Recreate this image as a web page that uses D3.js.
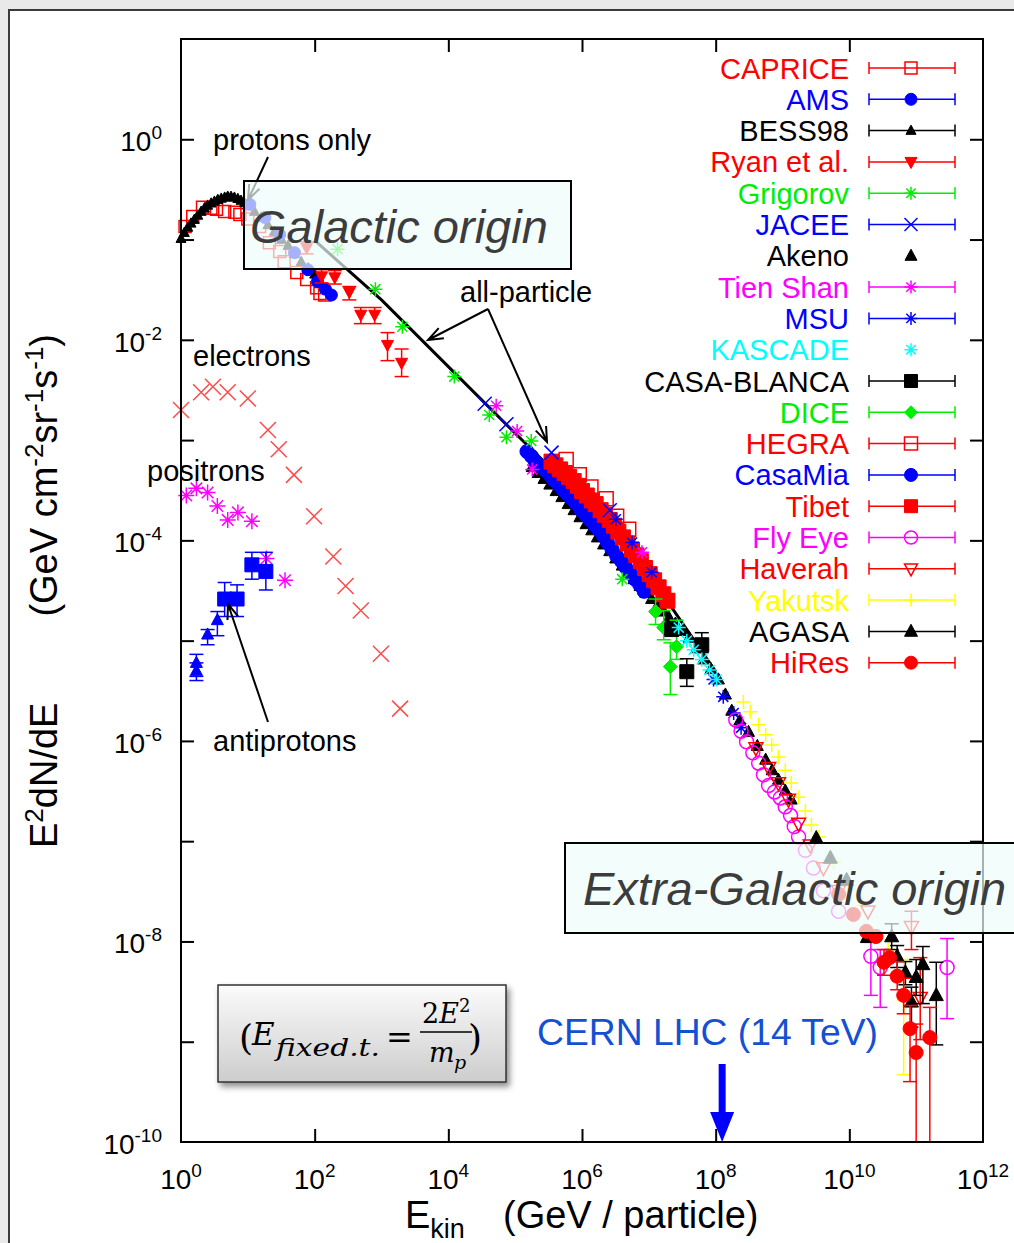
<!DOCTYPE html>
<html>
<head>
<meta charset="utf-8">
<script src="https://cdn.jsdelivr.net/npm/d3@7"></script>
<style>
  body { margin: 0; background: #e9e9e9; }
  svg { display: block; font-family: "Liberation Sans", Arial, sans-serif; }
</style>
</head>
<body>
<svg id="chart"></svg>
<script>
// tick exponents for the axes
var xTickExps = [0, 2, 4, 6, 8, 10, 12];
var yTickExps = [0, -2, -4, -6, -8, -10];

// all series as [E (GeV), E^2 dN/dE] or [E, flux, errLow, errHigh]
var caprice = [[1.15, 0.135], [1.5, 0.17], [2.1, 0.21], [2.8, 0.205], [3.4, 0.2], [4.5, 0.19], [6.4, 0.187],
  [7.6, 0.178], [10, 0.16], [15, 0.135], [21, 0.093], [30, 0.076], [35, 0.06], [54, 0.047], [76, 0.04],
  [107, 0.033], [120, 0.029], [141, 0.028]];
var ams = [[10.7, 0.224], [18, 0.166], [30, 0.112], [50, 0.074], [79, 0.05], [110, 0.038], [145, 0.032], [178, 0.028]];
var bess98 = [[1.0, 0.102], [1.12, 0.117], [1.26, 0.132], [1.41, 0.145], [1.58, 0.158], [1.78, 0.174], [2.0, 0.19],
  [2.24, 0.205], [2.5, 0.219], [2.82, 0.23], [3.16, 0.24], [3.55, 0.25], [4.0, 0.257], [4.5, 0.263], [5.0, 0.269],
  [5.6, 0.268], [6.3, 0.263], [7.1, 0.255], [7.9, 0.245], [8.9, 0.232], [10, 0.219], [12.6, 0.19], [15.8, 0.166],
  [20, 0.14], [25, 0.12], [32, 0.1], [40, 0.087], [50, 0.072], [63, 0.06], [80, 0.052], [100, 0.045]];
var ryan = [[76, 0.083, 0.072, 0.095], [127, 0.043, 0.037, 0.05], [200, 0.042, 0.036, 0.049], [330, 0.03, 0.025, 0.034],
  [490, 0.0178, 0.0145, 0.021], [790, 0.0178, 0.0145, 0.021], [1230, 0.0089, 0.0062, 0.0118], [2000, 0.0059, 0.0043, 0.0081]];
var grigorov = [[220, 0.08], [810, 0.032], [2050, 0.0135], [1.23e4, 0.0043], [4.1e4, 1.78e-3], [7.4e4, 1.07e-3],
  [1.74e5, 9.8e-4], [4e6, 4.1e-5]];
var jacee = [[3.5e4, 2.3e-3], [7.4e4, 1.44e-3], [3.5e5, 7.5e-4], [2.6e6, 2.0e-4]];
var akeno = [[1.8e5, 5.4e-4], [2.2e5, 4.7e-4], [2.7e5, 4.1e-4], [3.3e5, 3.6e-4], [4.1e5, 3.1e-4], [5.0e5, 2.7e-4],
  [6.2e5, 2.3e-4], [7.6e5, 2.0e-4], [9.3e5, 1.7e-4], [1.15e6, 1.45e-4], [1.4e6, 1.26e-4], [1.7e6, 1.07e-4],
  [2.1e6, 9.1e-5], [2.6e6, 7.8e-5], [3.2e6, 6.6e-5], [4.0e6, 5.6e-5], [4.9e6, 4.8e-5], [6.0e6, 4.1e-5],
  [7.4e6, 3.5e-5], [9.0e6, 3.0e-5], [1.1e7, 2.6e-5], [1.35e7, 2.25e-5], [1.67e7, 1.95e-5], [2.0e7, 1.7e-5],
  [2.5e7, 1.48e-5], [3.2e7, 1.25e-5], [4.0e7, 1.07e-5], [5.2e7, 8.4e-6], [6.6e7, 6.5e-6], [8.5e7, 5.2e-6],
  [1.1e8, 4.1e-6], [1.4e8, 2.9e-6], [1.74e8, 2.0e-6], [2.3e8, 1.6e-6], [3.1e8, 1.23e-6], [4.2e8, 8.9e-7],
  [5.6e8, 6.5e-7], [7.0e8, 5.1e-7], [8.7e8, 4.1e-7], [1.1e9, 3.2e-7], [1.35e9, 2.6e-7]];
var tienShan = [[5.2e4, 2.2e-3], [1.07e5, 1.23e-3], [1.8e5, 5.1e-4], [7.9e6, 7.6e-5]];
var msu = [[3.2e6, 1.62e-4], [5.6e6, 9.5e-5], [1.1e7, 4.8e-5], [9.3e7, 4.1e-6], [1.3e8, 2.75e-6], [1.86e8, 1.9e-6],
  [2.4e8, 1.35e-6]];
var kascade = [[2.8e7, 1.35e-5], [3.7e7, 1.0e-5], [4.7e7, 8.1e-6], [6.2e7, 6.5e-6], [8.1e7, 5.1e-6], [1.03e8, 4.1e-6]];
var casaBlanca = [[2.2e7, 1.29e-5, 1.15e-5, 1.45e-5], [3.7e7, 4.9e-6, 3.5e-6, 6.6e-6], [6.2e7, 9.1e-6, 7.6e-6, 1.2e-5]];
var dice = [[1.26e7, 1.95e-5, 1.45e-5, 2.6e-5], [1.67e7, 1.35e-5, 1.02e-5, 2.0e-5], [2.1e7, 5.5e-6, 2.9e-6, 9.5e-6],
  [2.6e7, 8.7e-6, 6.5e-6, 1.6e-5]];
var hegra = [[5.8e5, 6.4e-4], [9.1e5, 4.5e-4], [1.36e6, 3.4e-4], [2.3e6, 2.6e-4], [3.3e6, 1.74e-4], [5.0e6, 1.29e-4]];
var casaMia = [[1.5e5, 7.7e-4], [1.75e5, 6.9e-4], [2.0e5, 6.1e-4], [2.4e5, 5.5e-4], [2.8e5, 5.0e-4], [3.3e5, 4.5e-4],
  [3.8e5, 4.0e-4], [4.5e5, 3.6e-4], [5.2e5, 3.2e-4], [6.1e5, 2.9e-4], [7.1e5, 2.6e-4], [8.3e5, 2.3e-4],
  [9.7e5, 2.0e-4], [1.13e6, 1.8e-4], [1.32e6, 1.6e-4], [1.55e6, 1.42e-4], [1.8e6, 1.26e-4], [2.1e6, 1.1e-4],
  [2.4e6, 9.5e-5], [2.8e6, 8.2e-5], [3.3e6, 7.0e-5], [3.9e6, 6.2e-5], [4.5e6, 5.4e-5], [5.3e6, 4.7e-5],
  [6.2e6, 4.1e-5], [7.3e6, 3.6e-5], [8.5e6, 3.1e-5]];
var tibet = [[3.5e5, 6.1e-4], [4.0e5, 5.6e-4], [4.7e5, 5.1e-4], [5.5e5, 4.7e-4], [6.4e5, 4.3e-4], [7.5e5, 3.9e-4],
  [8.7e5, 3.5e-4], [1.0e6, 3.1e-4], [1.18e6, 2.8e-4], [1.4e6, 2.5e-4], [1.6e6, 2.3e-4], [1.9e6, 2.0e-4],
  [2.2e6, 1.8e-4], [2.6e6, 1.6e-4], [3.0e6, 1.4e-4], [3.5e6, 1.22e-4], [4.1e6, 1.07e-4], [4.8e6, 9.3e-5],
  [5.6e6, 8.1e-5], [6.5e6, 7.1e-5], [7.6e6, 6.2e-5], [8.8e6, 5.3e-5], [1.03e7, 4.6e-5], [1.2e7, 4.0e-5],
  [1.4e7, 3.4e-5], [1.65e7, 2.9e-5], [1.9e7, 2.5e-5]];
var flyEye = [[2.0e8, 1.62e-6], [2.4e8, 1.25e-6], [2.9e8, 9.8e-7], [3.6e8, 7.6e-7], [4.4e8, 6.0e-7], [5.2e8, 4.6e-7],
  [6.2e8, 3.6e-7], [7.6e8, 3.1e-7], [9.3e8, 2.7e-7], [1.1e9, 2.2e-7], [1.32e9, 1.8e-7], [1.5e9, 1.4e-7],
  [1.74e9, 1.1e-7], [2.2e9, 8.1e-8], [2.9e9, 5.4e-8], [4.1e9, 3.2e-8], [6.9e9, 2.0e-8],
  [2.1e10, 7.1e-9, 2.9e-9, 9.8e-9], [2.9e10, 5.5e-9, 2.2e-9, 8.3e-9], [2.9e11, 5.5e-9, 1.7e-9, 1.07e-8]];
var haverah = [[4.0e8, 8.5e-7], [6.2e8, 5.4e-7], [8.7e8, 3.8e-7], [1.23e9, 2.6e-7], [1.74e9, 1.5e-7], [2.6e9, 9.1e-8],
  [4.1e9, 5.4e-8], [6.9e9, 3.2e-8], [1.9e10, 2.0e-8], [8.5e10, 1.4e-8, 8.3e-9, 2.0e-8],
  [1.15e11, 2.75e-9, 1.05e-9, 6.9e-9]];
var yakutsk = [[2.6e8, 2.45e-6], [3.3e8, 1.95e-6], [4.4e8, 1.45e-6], [5.6e8, 1.15e-6], [6.9e8, 9.1e-7], [8.7e8, 6.9e-7],
  [1.1e9, 5.1e-7], [1.35e9, 3.8e-7], [1.74e9, 2.75e-7], [2.2e9, 2.0e-7], [2.7e9, 1.45e-7], [3.5e9, 1.1e-7],
  [5.8e9, 6.2e-8], [9.7e9, 3.6e-8], [1.6e10, 2.3e-8], [3.8e10, 8.3e-9], [6.5e10, 2.6e-9, 4.7e-10, 6.6e-9]];
var agasa = [[3.2e9, 1.07e-7], [5.2e9, 6.8e-8], [9.1e9, 4.1e-8], [1.86e10, 1.1e-8], [4.3e10, 1.12e-8, 8.3e-9, 1.5e-8],
  [5.2e10, 7.1e-9, 5.5e-9, 9.1e-9], [6.9e10, 4.9e-9, 3.7e-9, 6.3e-9], [1.0e11, 4.4e-9, 2.9e-9, 6.6e-9],
  [1.26e11, 5.9e-9, 2.4e-9, 8.9e-9], [8.5e10, 2.5e-9, 1.4e-9, 3.5e-9], [2.0e11, 2.9e-9, 9.3e-10, 6.2e-9]];
var hiRes = [[6.9e9, 2.95e-8], [1.15e10, 1.86e-8], [1.8e10, 1.26e-8], [2.5e10, 1.12e-8], [3.3e10, 6.2e-9, 4.6e-9, 8.3e-9],
  [4.0e10, 6.9e-9], [5.2e10, 4.5e-9, 3.3e-9, 6.3e-9], [6.5e10, 2.9e-9, 1.9e-9, 4.3e-9],
  [8.1e10, 1.35e-9, 4.0e-10, 2.3e-9], [1.0e11, 7.8e-10, 1e-10, 1.5e-9], [1.6e11, 1.1e-9, 1e-10, 2.2e-9]];

// other particle species
var electrons = [[1.0, 2.0e-3], [2.0, 3.0e-3], [3.0, 3.4e-3], [5.0, 3.0e-3], [10, 2.6e-3], [20, 1.26e-3], [29, 8.1e-4],
  [49, 4.5e-4], [98, 1.74e-4], [190, 6.9e-5], [290, 3.5e-5], [490, 2.0e-5], [980, 7.4e-6], [1900, 2.1e-6]];
var positrons = [[1.2, 2.8e-4], [1.7, 3.3e-4], [2.5, 3.0e-4], [3.5, 2.2e-4], [5.0, 1.6e-4], [7.1, 1.9e-4],
  [11.5, 1.55e-4], [19, 6.6e-5], [36, 4.0e-5]];
var antiprotonTri = [[1.7, 6.0e-6, 4.4e-6, 7.3e-6], [1.7, 5.0e-6, 4.0e-6, 6.0e-6], [2.5, 1.15e-5, 9.1e-6, 1.29e-5],
  [3.5, 1.6e-5, 1.12e-5, 1.95e-5]];
var antiprotonSq = [[4.5, 2.6e-5, 1.74e-5, 3.8e-5], [6.9, 2.6e-5, 1.74e-5, 3.6e-5], [11.5, 5.7e-5, 4.1e-5, 7.6e-5],
  [18.6, 4.9e-5, 3.2e-5, 7.6e-5]];

// all-particle fit line
var allParticle = [[1e2, 0.098], [1e3, 0.025], [1e4, 5.4e-3], [1e5, 1.17e-3], [1e6, 2.6e-4], [1e7, 4.6e-5], [1e8, 4.9e-6]];

// legend entries, top to bottom
var series = [
  {name: "CAPRICE", color: "#ff0000", shape: "square", open: true, size: 6, data: caprice, bar: true},
  {name: "AMS", color: "#0000ff", shape: "circle", size: 6, data: ams, bar: true},
  {name: "BESS98", color: "#000000", shape: "tri", size: 5, data: bess98, bar: true},
  {name: "Ryan et al.", color: "#ff0000", shape: "triDown", size: 6, data: ryan, bar: true},
  {name: "Grigorov", color: "#00ee00", shape: "star", size: 7, data: grigorov, bar: true},
  {name: "JACEE", color: "#0000ff", shape: "cross", size: 7, data: jacee, bar: true},
  {name: "Akeno", color: "#000000", shape: "tri", size: 6, data: akeno, bar: false},
  {name: "Tien Shan", color: "#ff00ff", shape: "star", size: 7, data: tienShan, bar: true},
  {name: "MSU", color: "#0000ff", shape: "star", size: 7, data: msu, bar: true},
  {name: "KASCADE", color: "#00ffff", shape: "star", size: 7, data: kascade, bar: false},
  {name: "CASA-BLANCA", color: "#000000", shape: "square", size: 7, data: casaBlanca, bar: true},
  {name: "DICE", color: "#00ee00", shape: "diamond", size: 7, data: dice, bar: true},
  {name: "HEGRA", color: "#ff0000", shape: "square", open: true, size: 7, data: hegra, bar: true},
  {name: "CasaMia", color: "#0000ff", shape: "circle", size: 7, data: casaMia, bar: true},
  {name: "Tibet", color: "#ff0000", shape: "square", size: 7.5, data: tibet, bar: true},
  {name: "Fly Eye", color: "#ff00ff", shape: "circle", open: true, size: 7, data: flyEye, bar: true},
  {name: "Haverah", color: "#ff0000", shape: "triDown", open: true, size: 7, data: haverah, bar: true},
  {name: "Yakutsk", color: "#ffff00", shape: "plus", size: 7, data: yakutsk, bar: true},
  {name: "AGASA", color: "#000000", shape: "tri", size: 7, data: agasa, bar: true},
  {name: "HiRes", color: "#ff0000", shape: "circle", size: 7, data: hiRes, bar: true}
];

// order in which the series are painted (later ones on top)
var drawOrder = ["Akeno", "CAPRICE", "BESS98", "AMS", "Ryan et al.", "CasaMia", "HEGRA", "Tibet", "Grigorov",
  "JACEE", "Tien Shan", "MSU", "DICE", "CASA-BLANCA", "KASCADE", "Yakutsk", "Fly Eye", "Haverah", "AGASA", "HiRes"];

var W = 1014, H = 1243;
var margin = {top: 39, right: 31, bottom: 101, left: 181};

var svg = d3.select("#chart").attr("width", W).attr("height", H);

// grey page and white slide panel
svg.append("rect").attr("width", W).attr("height", H).attr("fill", "#e9e9e9");
svg.append("rect").attr("x", 9).attr("y", 10).attr("width", W).attr("height", H)
  .attr("fill", "#fff").attr("stroke", "#3a3a3a").attr("stroke-width", 2);

var defs = svg.append("defs");
var grad = defs.append("linearGradient").attr("id", "boxGrad").attr("x1", 0).attr("y1", 0).attr("x2", 0).attr("y2", 1);
grad.append("stop").attr("offset", "0%").attr("stop-color", "#fbfbfb");
grad.append("stop").attr("offset", "100%").attr("stop-color", "#cdcdcd");
defs.append("filter").attr("id", "shadow").attr("x", "-10%").attr("y", "-10%").attr("width", "130%").attr("height", "140%")
  .append("feDropShadow").attr("dx", 3).attr("dy", 4).attr("stdDeviation", 3).attr("flood-opacity", 0.45);

// scales
var x = d3.scaleLog().domain([1, 1e12]).range([margin.left, W - margin.right]);
var y = d3.scaleLog().domain([1e-10, 10]).range([H - margin.bottom, margin.top]);
var x0 = margin.left, x1 = W - margin.right, y0 = H - margin.bottom, y1 = margin.top;

// axes with inward ticks
var xTickVals = [1e2, 1e4, 1e6, 1e8, 1e10];
var yTickVals = d3.range(-9, 1).map(function(e) { return Math.pow(10, e); });

function styleAxis(g) {
  g.select(".domain").remove();
  g.selectAll(".tick line").attr("stroke", "#000").attr("stroke-width", 2);
}
svg.append("g").attr("transform", "translate(0," + y0 + ")")
  .call(d3.axisBottom(x).tickValues(xTickVals).tickSizeInner(-13).tickSizeOuter(0).tickFormat("")).call(styleAxis);
svg.append("g").attr("transform", "translate(0," + y1 + ")")
  .call(d3.axisTop(x).tickValues(xTickVals).tickSizeInner(-13).tickSizeOuter(0).tickFormat("")).call(styleAxis);
svg.append("g").attr("transform", "translate(" + x0 + ",0)")
  .call(d3.axisLeft(y).tickValues(yTickVals).tickSizeInner(-13).tickSizeOuter(0).tickFormat("")).call(styleAxis);
svg.append("g").attr("transform", "translate(" + x1 + ",0)")
  .call(d3.axisRight(y).tickValues(yTickVals).tickSizeInner(-13).tickSizeOuter(0).tickFormat("")).call(styleAxis);

// tick labels as 10^n
xTickExps.forEach(function(e) {
  var t = svg.append("text").attr("x", x(Math.pow(10, e))).attr("y", y0 + 47)
    .attr("text-anchor", "middle").attr("font-size", 28);
  t.append("tspan").text("10");
  t.append("tspan").attr("dy", -12).attr("font-size", 19).text(e);
});
yTickExps.forEach(function(e) {
  var t = svg.append("text").attr("x", 162).attr("y", y(Math.pow(10, e)) + 12)
    .attr("text-anchor", "end").attr("font-size", 28);
  t.append("tspan").text("10");
  t.append("tspan").attr("dy", -12).attr("font-size", 19).text(e === 0 ? "0" : "-" + Math.abs(e));
});

// axis titles
var xt = svg.append("text").attr("x", 405).attr("y", 1228).attr("font-size", 38);
xt.append("tspan").text("E");
xt.append("tspan").attr("dy", 10).attr("font-size", 27).text("kin");
xt.append("tspan").attr("x", 503).attr("dy", -10).text("(GeV / particle)");

var ytA = svg.append("text").attr("transform", "translate(57,848) rotate(-90)").attr("font-size", 38);
ytA.append("tspan").text("E");
ytA.append("tspan").attr("dy", -14).attr("font-size", 26).text("2");
ytA.append("tspan").attr("dy", 14).text("dN/dE");
var ytB = svg.append("text").attr("transform", "translate(57,334) rotate(-90)").attr("font-size", 38)
  .attr("text-anchor", "end");
ytB.append("tspan").text("(GeV cm");
ytB.append("tspan").attr("dy", -14).attr("font-size", 26).text("-2");
ytB.append("tspan").attr("dy", 14).text("sr");
ytB.append("tspan").attr("dy", -14).attr("font-size", 26).text("-1");
ytB.append("tspan").attr("dy", 14).text("s");
ytB.append("tspan").attr("dy", -14).attr("font-size", 26).text("-1");
ytB.append("tspan").attr("dy", 14).text(")");

// marker shapes
function markerPath(shape, s) {
  var d = s * 0.72;
  switch (shape) {
    case "plus": return "M" + (-s) + ",0H" + s + "M0," + (-s) + "V" + s;
    case "cross": return "M" + (-s) + "," + (-s) + "L" + s + "," + s + "M" + (-s) + "," + s + "L" + s + "," + (-s);
    case "star": return "M" + (-s) + ",0H" + s + "M0," + (-s) + "V" + s +
      "M" + (-d) + "," + (-d) + "L" + d + "," + d + "M" + (-d) + "," + d + "L" + d + "," + (-d);
    case "square": return "M" + (-s) + "," + (-s) + "H" + s + "V" + s + "H" + (-s) + "Z";
    case "diamond": return "M0," + (-s) + "L" + s + ",0L0," + s + "L" + (-s) + ",0Z";
    case "tri": return "M0," + (-s * 1.1) + "L" + s + "," + (s * 0.75) + "L" + (-s) + "," + (s * 0.75) + "Z";
    case "triDown": return "M0," + (s * 1.1) + "L" + s + "," + (-s * 0.75) + "L" + (-s) + "," + (-s * 0.75) + "Z";
    default: return "M" + s + ",0A" + s + "," + s + " 0 1,1 " + (-s) + ",0A" + s + "," + s + " 0 1,1 " + s + ",0Z";
  }
}
function styleMarker(sel, s) {
  var lineShape = (s.shape === "plus" || s.shape === "cross" || s.shape === "star");
  sel.attr("fill", (lineShape || s.open) ? "none" : s.color)
    .attr("stroke", s.color)
    .attr("stroke-width", lineShape || s.open ? 1.5 : 1);
}

// draw one data set with error bars
function drawSeries(s) {
  var g = svg.append("g");
  var withErr = s.data.filter(function(d) { return d.length > 2; });
  g.selectAll("line.err").data(withErr).enter().append("line")
    .attr("x1", function(d) { return x(d[0]); }).attr("x2", function(d) { return x(d[0]); })
    .attr("y1", function(d) { return y(d[2]); }).attr("y2", function(d) { return y(d[3]); })
    .attr("stroke", s.color).attr("stroke-width", 1.5);
  [2, 3].forEach(function(k) {
    g.selectAll("line.cap" + k).data(withErr).enter().append("line")
      .attr("x1", function(d) { return x(d[0]) - 7; }).attr("x2", function(d) { return x(d[0]) + 7; })
      .attr("y1", function(d) { return y(d[k]); }).attr("y2", function(d) { return y(d[k]); })
      .attr("stroke", s.color).attr("stroke-width", 1.5);
  });
  g.selectAll("path").data(s.data).enter().append("path")
    .attr("transform", function(d) { return "translate(" + x(d[0]) + "," + y(d[1]) + ")"; })
    .attr("d", markerPath(s.shape, s.size))
    .call(styleMarker, s);
}

// all-particle line under the data
svg.append("path").datum(allParticle)
  .attr("d", d3.line().x(function(d) { return x(d[0]); }).y(function(d) { return y(d[1]); }))
  .attr("fill", "none").attr("stroke", "#000").attr("stroke-width", 3);

// electrons, positrons, antiprotons
drawSeries({color: "#ff4a4a", shape: "cross", size: 8, data: electrons});
drawSeries({color: "#ff00ff", shape: "star", size: 8, data: positrons});
drawSeries({color: "#0000ff", shape: "tri", size: 6, data: antiprotonTri});
drawSeries({color: "#0000ff", shape: "square", size: 7, data: antiprotonSq});

drawOrder.forEach(function(n) {
  drawSeries(series.find(function(s) { return s.name === n; }));
});

// frame
svg.append("rect").attr("x", x0).attr("y", y1).attr("width", x1 - x0).attr("height", y0 - y1)
  .attr("fill", "none").attr("stroke", "#000").attr("stroke-width", 2);

// arrows with open heads
function arrow(xa, ya, xb, yb, color) {
  var ang = Math.atan2(yb - ya, xb - xa), L = 16, spread = 0.36;
  var p = "M" + xa + "," + ya + "L" + xb + "," + yb +
    "M" + (xb - L * Math.cos(ang - spread)) + "," + (yb - L * Math.sin(ang - spread)) + "L" + xb + "," + yb +
    "L" + (xb - L * Math.cos(ang + spread)) + "," + (yb - L * Math.sin(ang + spread));
  svg.append("path").attr("d", p).attr("fill", "none").attr("stroke", color || "#000").attr("stroke-width", 2);
}

function label(txt, lx, ly, size) {
  svg.append("text").attr("x", lx).attr("y", ly).attr("font-size", size || 29).attr("fill", "#000").text(txt);
}

label("protons only", 213, 150);
arrow(268, 157, 248, 200);
label("electrons", 193, 366);
label("positrons", 147, 481);
label("antiprotons", 213, 751);
arrow(268, 722, 228, 604);
label("all-particle", 460, 302);
arrow(488, 309, 428, 340);
arrow(488, 309, 547, 442);

// region boxes
svg.append("rect").attr("x", 244).attr("y", 181).attr("width", 327).attr("height", 88)
  .attr("fill", "rgb(238,253,251)").attr("fill-opacity", 0.7).attr("stroke", "#000").attr("stroke-width", 2);
svg.append("text").attr("x", 250).attr("y", 243).attr("font-size", 47).attr("font-style", "italic")
  .attr("fill", "#3c3c3c").text("Galactic origin");

svg.append("rect").attr("x", 565).attr("y", 843).attr("width", 470).attr("height", 90)
  .attr("fill", "rgb(238,253,251)").attr("fill-opacity", 0.7).attr("stroke", "#000").attr("stroke-width", 2);
svg.append("text").attr("x", 583).attr("y", 905).attr("font-size", 47).attr("font-style", "italic")
  .attr("fill", "#3c3c3c").text("Extra-Galactic origin");

// legend
var legend = svg.append("g");
series.forEach(function(s, i) {
  var cy = 68 + i * 31.3;
  legend.append("text").attr("x", 849).attr("y", cy + 10.5).attr("text-anchor", "end")
    .attr("font-size", 29).attr("fill", s.color).text(s.name);
  if (s.bar) {
    legend.append("path").attr("d", "M869," + cy + "H955M869," + (cy - 6) + "V" + (cy + 6) + "M955," + (cy - 6) + "V" + (cy + 6))
      .attr("fill", "none").attr("stroke", s.color).attr("stroke-width", 1.5);
  }
  legend.append("path").attr("transform", "translate(911," + cy + ")")
    .attr("d", markerPath(s.shape, Math.min(s.size, 6.5))).call(styleMarker, s);
});

// fixed-target formula box
svg.append("rect").attr("x", 218).attr("y", 985).attr("width", 288).attr("height", 97)
  .attr("fill", "url(#boxGrad)").attr("stroke", "#333").attr("stroke-width", 1.5).attr("filter", "url(#shadow)");
var serif = '"DejaVu Serif", "Liberation Serif", serif';
var f = svg.append("g").attr("font-family", serif).attr("fill", "#000");
f.append("text").attr("x", 239).attr("y", 1050).attr("font-size", 36).text("(");
f.append("text").attr("x", 252).attr("y", 1045).attr("font-size", 31).attr("font-style", "italic").text("E");
f.append("text").attr("x", 276).attr("y", 1056).attr("font-size", 25).attr("font-style", "italic")
  .attr("textLength", 104).attr("lengthAdjust", "spacingAndGlyphs").text("fixed.t.");
f.append("text").attr("x", 386).attr("y", 1048).attr("font-size", 32).text("=");
var num = f.append("text").attr("x", 422).attr("y", 1023).attr("font-size", 27);
num.append("tspan").text("2");
num.append("tspan").attr("font-style", "italic").text("E");
num.append("tspan").attr("dy", -11).attr("font-size", 18).text("2");
f.append("line").attr("x1", 420).attr("x2", 472).attr("y1", 1032).attr("y2", 1032).attr("stroke", "#000").attr("stroke-width", 1.5);
f.append("text").attr("x", 429).attr("y", 1062).attr("font-size", 27).attr("font-style", "italic").text("m");
f.append("text").attr("x", 454).attr("y", 1069).attr("font-size", 19).attr("font-style", "italic").text("p");
f.append("text").attr("x", 468).attr("y", 1050).attr("font-size", 36).text(")");

// LHC marker
svg.append("text").attr("x", 537).attr("y", 1045).attr("font-size", 36).attr("fill", "#1450d2")
  .attr("textLength", 341).attr("lengthAdjust", "spacingAndGlyphs").text("CERN LHC (14 TeV)");
var ax = x(1.25e8);
svg.append("line").attr("x1", ax).attr("x2", ax).attr("y1", 1064).attr("y2", 1118)
  .attr("stroke", "#0000ff").attr("stroke-width", 7);
svg.append("path").attr("d", "M" + (ax - 12) + ",1112L" + (ax + 12) + ",1112L" + ax + "," + y0 + "Z").attr("fill", "#0000ff");
</script>
</body>
</html>
